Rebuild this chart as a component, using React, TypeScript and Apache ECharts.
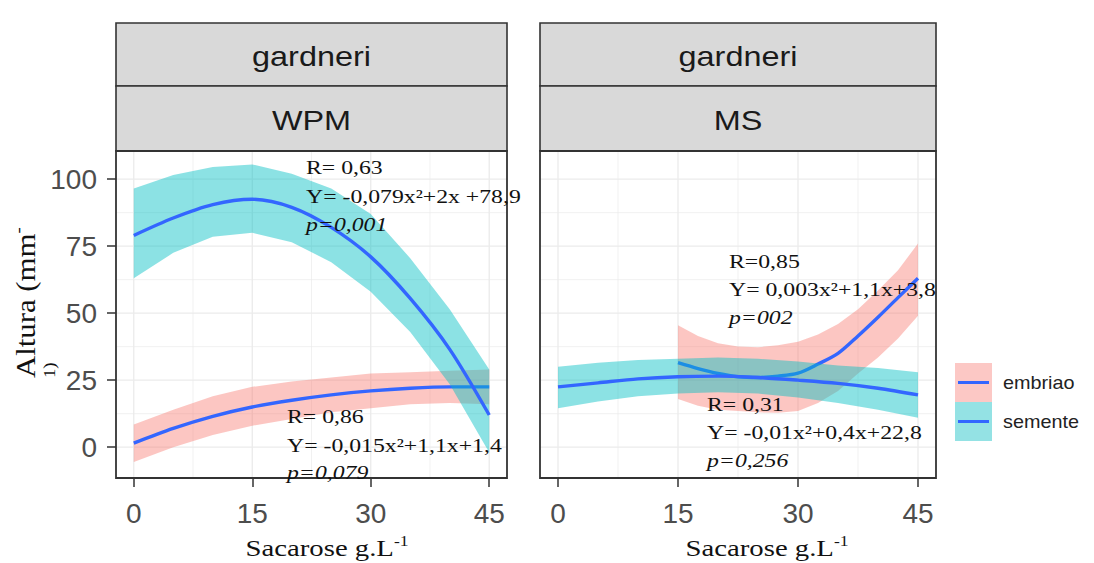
import { useEffect, useRef } from "react";
import * as echarts from "echarts";

// ---------- data ----------
const X_FULL = [0, 5, 10, 15, 20, 25, 30, 35, 40, 45];
const X_MS_EMBRIAO = [15, 17.5, 20, 22.5, 25, 27.5, 30, 32.5, 35, 37.5, 40, 42.5, 45];

// WPM panel
const WPM_SEMENTE_FIT = [79, 85.5, 90.5, 92.5, 89.5, 82, 71, 55.5, 36.5, 12];
const WPM_SEMENTE_UPPER = [96.5, 101.5, 104.5, 105.5, 102, 96.5, 87, 70.5, 51.5, 29];
const WPM_SEMENTE_LOWER = [63, 72.5, 78.5, 80, 76.5, 69, 58, 43, 23.5, -2];
const WPM_EMBRIAO_FIT = [1.5, 7, 11.5, 15, 17.5, 19.5, 21, 22, 22.5, 22.5];
const WPM_EMBRIAO_UPPER = [8.5, 14, 19, 22.5, 24.5, 26, 27.5, 28, 28.5, 29];
const WPM_EMBRIAO_LOWER = [-5.5, 0, 4.5, 8, 10.5, 13, 14.5, 16, 16.5, 16];

// MS panel
const MS_SEMENTE_FIT = [22.5, 24, 25.5, 26.3, 26.5, 26, 25, 23.8, 22, 19.5];
const MS_SEMENTE_UPPER = [30, 31.5, 32.5, 33, 33.5, 33, 32, 30.5, 29.5, 28];
const MS_SEMENTE_LOWER = [14.5, 17, 19, 20, 20.5, 20, 18.5, 16.5, 14, 11];
const MS_EMBRIAO_FIT = [31.5, 29.3, 27.5, 26.3, 26, 26.5, 27.6, 31, 35, 41.5, 48.5, 55.8, 63];
const MS_EMBRIAO_UPPER = [45.5, 41.5, 38.8, 37.6, 37.3, 38, 39.3, 42, 46, 51.5, 58.5, 66, 76];
const MS_EMBRIAO_LOWER = [18, 15.5, 14, 13.5, 13, 12.8, 13.5, 16.5, 21, 27.5, 33.5, 40.5, 49];

// axes / breaks
const X_MIN = -2.25;
const X_MAX = 47.25;
const Y_MIN = -11.5;
const Y_MAX = 110.5;
const X_TICK_MIN = 0;
const X_TICK_MAX = 45;
const X_TICK_STEP = 15;
const Y_TICK_MIN = 0;
const Y_TICK_MAX = 100;
const Y_TICK_STEP = 25;
const X_GRID_MAJOR = [0, 15, 30, 45];
const X_GRID_MINOR = [7.5, 22.5, 37.5];
const Y_GRID_MAJOR = [0, 25, 50, 75, 100];
const Y_GRID_MINOR = [12.5, 37.5, 62.5, 87.5];

const SPECIES = "gardneri";
const MEDIA = ["WPM", "MS"];
const GROUPS = ["embriao", "semente"];
const X_TITLE = "Sacarose g.L";
const X_TITLE_SUP = "-1";
const Y_TITLE = "Altura (mm";

const ANNOT_WPM_SEMENTE = ["R= 0,63", "Y= -0,079x²+2x +78,9", "p=0,001"];
const ANNOT_WPM_EMBRIAO = ["R= 0,86", "Y= -0,015x²+1,1x+1,4", "p=0,079"];
const ANNOT_MS_EMBRIAO = ["R=0,85", "Y= 0,003x²+1,1x+3,8", "p=002"];
const ANNOT_MS_SEMENTE = ["R= 0,31", "Y= -0,01x²+0,4x+22,8", "p=0,256"];

// ---------- layout / style ----------
const W = 1094;
const H = 563;
const PANELS = [
  { left: 116, right: 507 },
  { left: 540, right: 936 },
];
const STRIP_TOP = 23;
const STRIP_MID = 86;
const PANEL_TOP = 151;
const PANEL_BOTTOM = 478;

const SANS = '"Liberation Sans", Arial, Helvetica, sans-serif';
const SERIF = '"Liberation Serif", "Times New Roman", Times, serif';
const FIT_COLOR = "#3366FF";
const EMB_FILL = "rgba(248,118,109,0.42)";
const SEM_FILL = "rgba(0,191,196,0.45)";
const EMB_KEY = "#fcc8c5";
const SEM_KEY = "#94e2e4";
const GRID_COLOR = "#ebebeb";
const BORDER = "#333333";

function pairs(xs: number[], ys: number[]) {
  return xs.map((x, i) => [x, ys[i]]);
}

// confidence ribbon: one polygon built from the upper and lower arrays via the axis scales
function bandSeries(ai: number, xs: number[], lo: number[], hi: number[], color: string, z: number) {
  return {
    type: "custom",
    xAxisIndex: ai,
    yAxisIndex: ai,
    silent: true,
    z,
    data: [[xs[0], lo[0], hi[0]]],
    renderItem: (_p: any, api: any) => {
      const pts: number[][] = [];
      for (let i = 0; i < xs.length; i++) pts.push(api.coord([xs[i], hi[i]]));
      for (let i = xs.length - 1; i >= 0; i--) pts.push(api.coord([xs[i], lo[i]]));
      return { type: "polygon", shape: { points: pts }, style: { fill: color } };
    },
  };
}

function fitSeries(ai: number, xs: number[], ys: number[], z: number) {
  return {
    type: "line",
    xAxisIndex: ai,
    yAxisIndex: ai,
    data: pairs(xs, ys),
    smooth: 0.3,
    symbol: "none",
    showSymbol: false,
    lineStyle: { color: FIT_COLOR, width: 3.4 },
    silent: true,
    z,
  };
}

function gridLineSeries(ai: number) {
  const data = [
    ...X_GRID_MAJOR.map((v) => [v, 0, 1]),
    ...X_GRID_MINOR.map((v) => [v, 0, 0]),
    ...Y_GRID_MAJOR.map((v) => [v, 1, 1]),
    ...Y_GRID_MINOR.map((v) => [v, 1, 0]),
  ];
  return {
    type: "custom",
    xAxisIndex: ai,
    yAxisIndex: ai,
    silent: true,
    z: 1,
    data,
    renderItem: (_p: any, api: any) => {
      const v = api.value(0);
      const o = api.value(1);
      const m = api.value(2);
      const a = o === 0 ? api.coord([v, Y_MIN]) : api.coord([X_MIN, v]);
      const b = o === 0 ? api.coord([v, Y_MAX]) : api.coord([X_MAX, v]);
      return {
        type: "line",
        shape: { x1: a[0], y1: a[1], x2: b[0], y2: b[1] },
        style: { stroke: GRID_COLOR, lineWidth: m ? 1.3 : 0.7 },
      };
    },
  };
}

function annotation(lines: string[], x: number, ys: number[]) {
  return lines.map((t, i) => ({
    type: "text",
    x,
    y: ys[i],
    scaleX: 1.25,
    z: 100,
    style: {
      text: t,
      fontFamily: SERIF,
      fontSize: 19,
      fontStyle: i === 2 ? "italic" : "normal",
      fill: "#111",
      align: "left",
      verticalAlign: "middle",
    },
  }));
}

export default function App() {
  const ref = useRef<HTMLDivElement>(null);

  useEffect(() => {
    if (!ref.current) return;
    const chart = echarts.init(ref.current, null, { renderer: "svg" });

    const grids: any[] = [];
    const xAxes: any[] = [];
    const yAxes: any[] = [];
    PANELS.forEach((p, pi) => {
      const w = p.right - p.left;
      const h = PANEL_BOTTOM - PANEL_TOP;
      const kx = w / (X_MAX - X_MIN);
      const ky = h / (Y_MAX - Y_MIN);
      // data grid (full panel)
      grids.push({ left: p.left, top: PANEL_TOP, width: w, height: h, containLabel: false });
      xAxes.push({ gridIndex: pi * 2, type: "value", min: X_MIN, max: X_MAX, show: false });
      yAxes.push({ gridIndex: pi * 2, type: "value", min: Y_MIN, max: Y_MAX, show: false });
      // tick grid (0..45 x 0..100)
      const gl = p.left + (X_TICK_MIN - X_MIN) * kx;
      const gt = PANEL_TOP + (Y_MAX - Y_TICK_MAX) * ky;
      const gw = (X_TICK_MAX - X_TICK_MIN) * kx;
      const gh = (Y_TICK_MAX - Y_TICK_MIN) * ky;
      grids.push({ left: gl, top: gt, width: gw, height: gh, containLabel: false });
      xAxes.push({
        gridIndex: pi * 2 + 1,
        type: "value",
        min: X_TICK_MIN,
        max: X_TICK_MAX,
        interval: X_TICK_STEP,
        position: "bottom",
        offset: PANEL_BOTTOM - (gt + gh),
        axisLine: { show: true, onZero: false, lineStyle: { opacity: 0 } },
        axisTick: { show: true, length: 9, lineStyle: { color: BORDER, width: 1.5 } },
        axisLabel: { show: true, fontSize: 28, fontFamily: SANS, color: "#4d4d4d", margin: 21 },
        splitLine: { show: false },
      });
      yAxes.push(
        pi === 0
          ? {
              gridIndex: pi * 2 + 1,
              type: "value",
              min: Y_TICK_MIN,
              max: Y_TICK_MAX,
              interval: Y_TICK_STEP,
              position: "left",
              offset: gl - p.left,
              axisLine: { show: true, onZero: false, lineStyle: { opacity: 0 } },
              axisTick: { show: true, length: 9, lineStyle: { color: BORDER, width: 1.5 } },
              axisLabel: { show: true, fontSize: 28, fontFamily: SANS, color: "#4d4d4d", margin: 19 },
              splitLine: { show: false },
            }
          : { gridIndex: pi * 2 + 1, type: "value", min: Y_TICK_MIN, max: Y_TICK_MAX, show: false }
      );
    });

    const series: any[] = [
      gridLineSeries(0),
      bandSeries(0, X_FULL, WPM_EMBRIAO_LOWER, WPM_EMBRIAO_UPPER, EMB_FILL, 2),
      fitSeries(0, X_FULL, WPM_EMBRIAO_FIT, 3),
      bandSeries(0, X_FULL, WPM_SEMENTE_LOWER, WPM_SEMENTE_UPPER, SEM_FILL, 4),
      fitSeries(0, X_FULL, WPM_SEMENTE_FIT, 5),
      gridLineSeries(2),
      bandSeries(2, X_MS_EMBRIAO, MS_EMBRIAO_LOWER, MS_EMBRIAO_UPPER, EMB_FILL, 2),
      fitSeries(2, X_MS_EMBRIAO, MS_EMBRIAO_FIT, 3),
      bandSeries(2, X_FULL, MS_SEMENTE_LOWER, MS_SEMENTE_UPPER, SEM_FILL, 4),
      fitSeries(2, X_FULL, MS_SEMENTE_FIT, 5),
    ];

    const graphics: any[] = [];
    PANELS.forEach((p, pi) => {
      const w = p.right - p.left;
      const cx = (p.left + p.right) / 2;
      graphics.push(
        {
          type: "rect",
          z: 50,
          shape: { x: p.left, y: STRIP_TOP, width: w, height: STRIP_MID - STRIP_TOP },
          style: { fill: "#d9d9d9", stroke: BORDER, lineWidth: 1.6 },
        },
        {
          type: "rect",
          z: 50,
          shape: { x: p.left, y: STRIP_MID, width: w, height: PANEL_TOP - STRIP_MID },
          style: { fill: "#d9d9d9", stroke: BORDER, lineWidth: 1.6 },
        },
        {
          type: "text",
          x: cx,
          y: (STRIP_TOP + STRIP_MID) / 2 + 2,
          scaleX: 1.2,
          z: 51,
          style: { text: SPECIES, fontFamily: SANS, fontSize: 27, fill: "#1a1a1a", align: "center", verticalAlign: "middle" },
        },
        {
          type: "text",
          x: cx,
          y: (STRIP_MID + PANEL_TOP) / 2 + 2,
          scaleX: 1.2,
          z: 51,
          style: { text: MEDIA[pi], fontFamily: SANS, fontSize: 27, fill: "#1a1a1a", align: "center", verticalAlign: "middle" },
        },
        {
          type: "rect",
          z: 50,
          shape: { x: p.left, y: PANEL_TOP, width: w, height: PANEL_BOTTOM - PANEL_TOP },
          style: { fill: "none", stroke: BORDER, lineWidth: 1.8 },
        }
      );
    });

    // axis titles
    [327, 767].forEach((x) => {
      graphics.push({
        type: "text",
        x,
        y: 548,
        scaleX: 1.25,
        z: 100,
        style: {
          text: "{a|" + X_TITLE + "}{b|" + X_TITLE_SUP + "}",
          fill: "#111",
          align: "center",
          verticalAlign: "middle",
          rich: {
            a: { fontFamily: SERIF, fontSize: 23, lineHeight: 28, fill: "#111" },
            b: { fontFamily: SERIF, fontSize: 14, lineHeight: 14, verticalAlign: "top", fill: "#111" },
          },
        },
      });
    });
    graphics.push({
      type: "text",
      x: 10,
      y: 378,
      rotation: Math.PI / 2,
      scaleX: 1.1,
      z: 100,
      style: {
        text: "{a|" + Y_TITLE + "}{b|-}\n{b|1)}",
        fill: "#111",
        align: "left",
        verticalAlign: "top",
        rich: {
          a: { fontFamily: SERIF, fontSize: 28, lineHeight: 31, fill: "#111" },
          b: { fontFamily: SERIF, fontSize: 17, lineHeight: 17, verticalAlign: "top", fill: "#111" },
        },
      },
    });

    // annotations
    graphics.push(
      ...annotation(ANNOT_WPM_SEMENTE, 306, [168, 197, 225]),
      ...annotation(ANNOT_WPM_EMBRIAO, 287, [417, 446, 473]),
      ...annotation(ANNOT_MS_EMBRIAO, 729, [262, 290, 318]),
      ...annotation(ANNOT_MS_SEMENTE, 707, [405, 433, 461])
    );

    // legend
    const keyColors = [EMB_KEY, SEM_KEY];
    GROUPS.forEach((g, i) => {
      const top = 363 + i * 39;
      graphics.push(
        { type: "rect", z: 100, shape: { x: 955, y: top, width: 37, height: 39 }, style: { fill: keyColors[i] } },
        {
          type: "line",
          z: 101,
          shape: { x1: 958, y1: top + 19.5, x2: 989, y2: top + 19.5 },
          style: { stroke: FIT_COLOR, lineWidth: 3 },
        },
        {
          type: "text",
          x: 1003,
          y: top + 19.5,
          scaleX: 1.1,
          z: 101,
          style: { text: g, fontFamily: SANS, fontSize: 18, fill: "#222", align: "left", verticalAlign: "middle" },
        }
      );
    });

    chart.setOption({
      animation: false,
      backgroundColor: "#ffffff",
      grid: grids,
      xAxis: xAxes,
      yAxis: yAxes,
      series,
      graphic: graphics,
    });

    return () => chart.dispose();
  }, []);

  return <div ref={ref} style={{ position: "fixed", left: 0, top: 0, width: W, height: H }} />;
}
